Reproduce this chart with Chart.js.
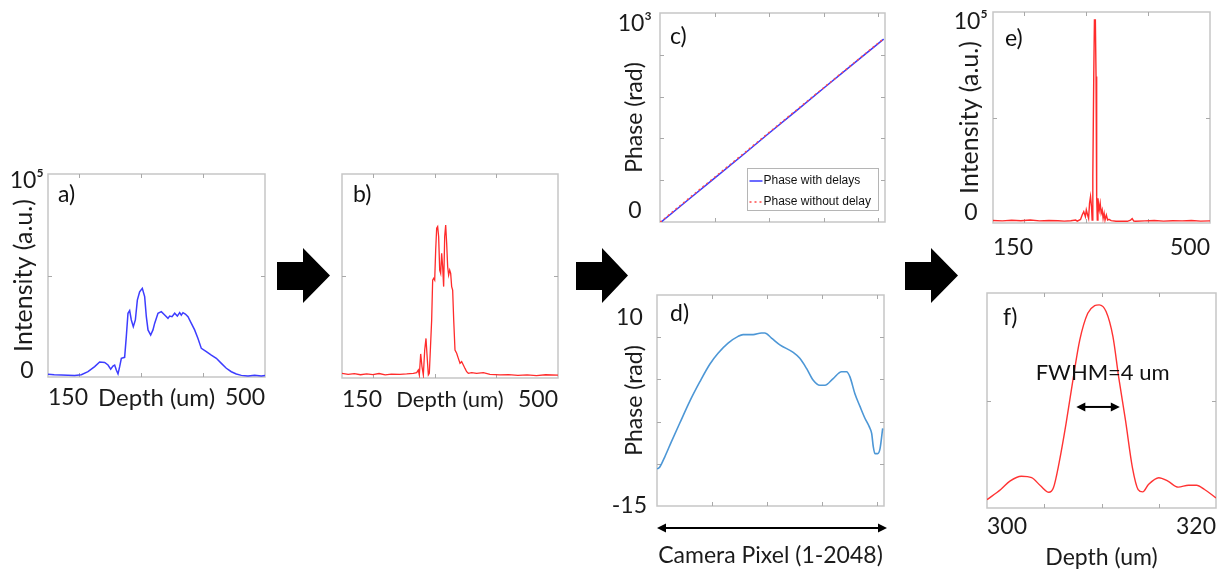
<!DOCTYPE html>
<html>
<head>
<meta charset="utf-8">
<script src="https://cdn.jsdelivr.net/npm/chart.js@4.4.0/dist/chart.umd.min.js"></script>
<style>
  html, body { margin: 0; padding: 0; background: #fff; }
  #figure { position: relative; width: 1221px; height: 573px; overflow: hidden; background: #fff; }
  #figure canvas { position: absolute; }
  #steps { position: absolute; left: 0; top: 0; }
</style>
</head>
<body>
<div id="figure">
  <svg id="steps" width="1221" height="573">
    <polygon points="277,262 303,262 303,248 330,275.5 303,303 303,290 277,290" fill="#000"/>
    <polygon points="576,262 602,262 602,248 628,275.5 602,303 602,290 576,290" fill="#000"/>
    <polygon points="905,262 931,262 931,248 958,275.5 931,303 931,290 905,290" fill="#000"/>
  </svg>
  <canvas id="panelA"></canvas>
  <canvas id="panelB"></canvas>
  <canvas id="panelC"></canvas>
  <canvas id="panelD"></canvas>
  <canvas id="panelE"></canvas>
  <canvas id="panelF"></canvas>
</div>
<script>
// ---- depth axis shared by a), b), e) ----
const depthTicks = [150, 200, 300, 400, 500];
const depthTickLabels = ['150', '', '', '', '500'];
const intensityTicks = [0, 50000, 100000];
const intensityTickLabels = [['0', ''], '', ['', '10⁵']];

// a) raw depth profile
const rawDepth = [150, 160, 171.5, 182, 193, 203.8, 214.5, 225.3, 233.3, 241.4, 246.8, 251.1, 254.8, 257.5, 260.2,
  262.9, 265.6, 268.3, 273.6, 276.3, 279, 281.7, 284.4, 287.6, 290.9, 294.1, 297.8, 302.1, 305.9, 308.6,
  311.3, 315.6, 319.3, 322, 327.4, 332.8, 338.2, 343.5, 346.2, 350, 354.3, 358.6, 362.4, 365, 367.7,
  371.5, 375.8, 381.2, 386.5, 391.9, 397.3, 405.4, 413.4, 421.5, 429.6, 437.6, 445.7, 453.7, 461.8, 472.6,
  483.3, 494.1, 500];
const rawIntensity = [1300, 1100, 1000, 900, 800, 1100, 2600, 5100, 7400, 7200, 5900, 3900, 5400, 5900, 3400,
  1500, 5100, 9200, 9700, 19900, 31400, 32700, 28100, 24800, 28100, 37900, 42000, 43700, 39600, 29700,
  23200, 20700, 23200, 26400, 31400, 32200, 30500, 28900, 30000, 29700, 31400, 30000, 31700, 30500, 31700,
  31000, 29700, 26400, 23200, 19000, 14100, 12500, 10800, 9200, 6700, 4300, 2600, 1500, 800, 500,
  800, 500, 800];

// b) filtered depth profile
const filtDepth = [150, 160, 170, 180, 190, 200, 210, 220, 230, 244.0, 254.8, 265.6, 271.0, 273.7, 275.3,
  277.5, 279.6, 281.8, 284.0, 286.1, 288.3, 289.9, 291.5, 295.3, 296.9, 298.5, 300.2, 301.8, 303.4, 305.0,
  306.6, 308.3, 309.9, 311.5, 313.1, 314.7, 316.4, 318.0, 319.6, 321.2, 322.8, 324.5, 326.1, 327.7, 329.3,
  331.0, 333.1, 335.8, 338.5, 341.2, 343.9, 346.6, 349.3, 352.0, 354.7, 360.1, 368.2, 379.0, 389.8, 406.0,
  420, 435, 450, 465, 480, 500];
const filtIntensity = [2300, 1800, 2100, 1600, 2000, 1700, 2200, 1500, 1900, 1800, 2000, 2300, 2600, 3900, 1500,
  11800, 5600, 1500, 13700, 19400, 8800, 1500, 2300, 28400, 48000, 48900, 48000, 62700, 73400, 74200,
  69300, 52900, 51300, 61100, 54600, 44800, 69300, 75000, 66000, 54600, 50500, 52900, 51300, 44800, 43100,
  28400, 13700, 12100, 9600, 7200, 8000, 6400, 4700, 3100, 2300, 2600, 2300, 2600, 1800, 1500,
  1700, 1300, 1500, 1200, 1600, 1400];

// c) unwrapped phase over the camera pixels
const pixelTicks = [0, 500, 1000, 1500, 2000];
const phaseTicks = [0, 200, 400, 600, 800, 1000];
const phaseTickLabels = [['0', ''], '', '', '', '', ['', '10³']];
const phasePixels = [1, 250, 500, 750, 1000, 1250, 1500, 1750, 2000, 2048];
const phaseWithDelays = [-4, 103, 210, 317, 426, 533, 641, 748, 855, 875];
const phaseWithoutDelay = [-1, 107, 214, 321, 429, 536, 643, 750, 857, 877];

// d) phase difference
const residualPixels = [1, 24, 70, 130, 206, 297, 388, 479, 554, 645, 736, 781, 872, 948, 978,
  1039, 1115, 1236, 1296, 1357, 1418, 1478, 1524, 1599, 1675, 1720, 1751, 1796, 1842, 1887,
  1926, 1948, 1963, 1978, 2002, 2024, 2048];
const residualPhase = [-10.6, -10.4, -9.2, -7.4, -5.2, -2.6, -0.3, 1.8, 3.1, 4.3, 5.1, 5.3, 5.3, 5.5, 5.5,
  4.9, 4.1, 3.2, 2.5, 1.3, -0.1, -0.7, -0.7, 0.1, 0.9, 0.9, 0.3, -1.7, -3.2, -4.6,
  -5.6, -6.4, -8.0, -8.8, -8.8, -8.2, -5.8];
const residualTicks = [-15, -10, -5, 0, 5, 10];
const residualTickLabels = ['-15', '', '', '', '', ['', '10']];

// e) compensated depth profile
const corrDepth = [150, 165, 180, 195, 210, 225, 240, 254.7, 265.1, 275.5, 283.3, 285.9, 291.2, 293.8, 296.4,
  299.0, 300.5, 302.6, 304.2, 305.7, 307.3, 308.9, 309.9, 311.0, 312.5, 313.6, 315.1, 316.2, 317.2, 318.2,
  319.3, 320.3, 321.4, 322.9, 324.5, 326.1, 327.6, 329.2, 330.7, 332.8, 334.9, 337.0, 340.6, 348.4, 358.9,
  366.7, 371.9, 374.5, 377.1, 379.7, 395, 410, 425, 440, 455, 470, 485, 500];
const corrIntensity = [1200, 1000, 1300, 1100, 1400, 1000, 1200, 1100, 900, 1100, 1400, 900, 1700, 3800, 5400,
  3000, 6200, 3800, 2200, 9300, 12500, 7700, 1400, 22000, 69400, 96200, 96200, 69400, 12500, 1400,
  11700, 8500, 6200, 9300, 4600, 6200, 2200, 4600, 1400, 3800, 1400, 1700, 1100, 800, 900,
  800, 1400, 2100, 900, 800, 1000, 1200, 900, 1100, 1000, 1200, 900, 1000];

// f) zoom on the main peak
const zoomDepth = [300.0, 301.2, 302.0, 303.0, 303.9, 304.7, 305.4, 305.8, 306.3, 306.9, 307.5, 308.1, 308.8, 309.4, 309.8,
  310.4, 311.0, 311.5, 312.1, 312.7, 313.2, 313.6, 314.1, 315.0, 315.8, 316.7, 317.6, 318.3, 319.0, 320.0];
const zoomIntensity = [0.039, 0.086, 0.125, 0.148, 0.141, 0.102, 0.073, 0.094, 0.211, 0.391, 0.594, 0.781, 0.906, 0.941, 0.945,
  0.914, 0.797, 0.609, 0.406, 0.188, 0.086, 0.075, 0.109, 0.141, 0.125, 0.097, 0.106, 0.106, 0.086, 0.047];
const zoomTicks = [300, 305, 310, 315, 320];
const zoomTickLabels = ['300', '', '', '', '320'];
const normTicks = [0, 0.5, 1];
const fwhm = { from: 307.8, to: 311.6, level: 0.47, text: 'FWHM=4 um', labelX: 310.1, labelY: 0.63 };

const FONT = 'Lato, "Noto Sans", sans-serif';
Chart.defaults.font.family = FONT;
Chart.defaults.color = '#1b1b1b';

const pts = (xs, ys) => xs.map((x, i) => ({ x: x, y: ys[i] }));

// box around the plot area with small inward ticks, matlab style
const axisFrame = {
  id: 'axisFrame',
  beforeDatasetsDraw(chart) {
    const { ctx, chartArea: a, scales: { x, y } } = chart;
    ctx.save();
    ctx.strokeStyle = '#c6c6c6';
    ctx.lineWidth = 1.5;
    ctx.strokeRect(a.left, a.top, a.right - a.left, a.bottom - a.top);
    ctx.strokeStyle = '#a9a9a9';
    ctx.lineWidth = 1;
    ctx.beginPath();
    x.ticks.forEach(t => {
      const px = Math.round(x.getPixelForValue(t.value)) + 0.5;
      if (px <= a.left + 2 || px >= a.right - 2) return;
      ctx.moveTo(px, a.bottom); ctx.lineTo(px, a.bottom - 4);
      ctx.moveTo(px, a.top); ctx.lineTo(px, a.top + 4);
    });
    y.ticks.forEach(t => {
      const py = Math.round(y.getPixelForValue(t.value)) + 0.5;
      if (py <= a.top + 2 || py >= a.bottom - 2) return;
      ctx.moveTo(a.left, py); ctx.lineTo(a.left + 4, py);
      ctx.moveTo(a.right, py); ctx.lineTo(a.right - 4, py);
    });
    ctx.stroke();
    ctx.restore();
  }
};

const panelLetter = {
  id: 'panelLetter',
  afterDraw(chart, args, o) {
    const { ctx, chartArea: a } = chart;
    ctx.save();
    ctx.font = '23px ' + FONT;
    ctx.fillStyle = '#111';
    ctx.textBaseline = 'middle';
    ctx.fillText(o.text, a.left + o.dx, a.top + o.dy);
    ctx.restore();
  }
};

function doubleArrow(ctx, x1, x2, y, head, half) {
  ctx.save();
  ctx.strokeStyle = '#000';
  ctx.fillStyle = '#000';
  ctx.lineWidth = 2;
  ctx.beginPath();
  ctx.moveTo(x1 + head - 1, y); ctx.lineTo(x2 - head + 1, y);
  ctx.stroke();
  ctx.beginPath();
  ctx.moveTo(x1, y); ctx.lineTo(x1 + head, y - half); ctx.lineTo(x1 + head, y + half);
  ctx.closePath(); ctx.fill();
  ctx.beginPath();
  ctx.moveTo(x2, y); ctx.lineTo(x2 - head, y - half); ctx.lineTo(x2 - head, y + half);
  ctx.closePath(); ctx.fill();
  ctx.restore();
}

// arrow spanning the camera pixels under d)
const spanArrow = {
  id: 'spanArrow',
  afterDraw(chart, args, o) {
    const a = chart.chartArea;
    doubleArrow(chart.ctx, a.left, a.right + 3, a.bottom + o.dy, 9, 4.5);
  }
};

// FWHM marker in f)
const fwhmMarker = {
  id: 'fwhmMarker',
  afterDatasetsDraw(chart) {
    const { ctx, scales: { x, y } } = chart;
    doubleArrow(ctx, x.getPixelForValue(fwhm.from), x.getPixelForValue(fwhm.to), y.getPixelForValue(fwhm.level), 9, 4.5);
    ctx.save();
    ctx.font = '22px ' + FONT;
    ctx.fillStyle = '#111';
    ctx.textAlign = 'center';
    ctx.textBaseline = 'middle';
    ctx.fillText(fwhm.text, x.getPixelForValue(fwhm.labelX), y.getPixelForValue(fwhm.labelY));
    ctx.restore();
  }
};

// boxed legend in the lower right corner of c)
const boxLegend = {
  id: 'boxLegend',
  afterDatasetsDraw(chart, args, o) {
    const { ctx, chartArea: a } = chart;
    const x0 = Math.round(a.right - o.right - o.width) + 0.5;
    const y0 = Math.round(a.bottom - o.bottom - o.height) + 0.5;
    ctx.save();
    ctx.fillStyle = '#fff';
    ctx.fillRect(x0, y0, o.width, o.height);
    ctx.strokeStyle = '#b5b5b5';
    ctx.lineWidth = 1;
    ctx.strokeRect(x0, y0, o.width, o.height);
    ctx.font = '12px "Liberation Sans", Arial, sans-serif';
    ctx.textBaseline = 'middle';
    chart.data.datasets.forEach((ds, i) => {
      const ry = y0 + o.rows[i];
      ctx.strokeStyle = ds.borderColor;
      ctx.lineWidth = ds.borderWidth;
      ctx.setLineDash(ds.borderDash || []);
      ctx.beginPath();
      ctx.moveTo(x0 + 2, ry); ctx.lineTo(x0 + 15, ry);
      ctx.stroke();
      ctx.setLineDash([]);
      ctx.fillStyle = '#111';
      ctx.fillText(ds.label, x0 + 16, ry);
    });
    ctx.restore();
  }
};

function xAxis(p, height) {
  return {
    type: 'linear', min: p.min, max: p.max,
    afterBuildTicks: s => { s.ticks = p.ticks.map(v => ({ value: v })); },
    afterFit: s => { s.height = height; },
    grid: { display: false, drawTicks: false },
    border: { display: false },
    ticks: {
      display: !!p.labels, autoSkip: false, maxRotation: 0, minRotation: 0, align: 'inner',
      padding: p.pad || 0,
      callback: (v, i) => (p.labels ? p.labels[i] : ''),
      font: { size: 23, lineHeight: 1.2 }
    },
    title: p.title
      ? { display: true, text: p.title, padding: { top: 0, bottom: p.titlePad }, font: { size: p.titleSize || 23, lineHeight: 1.2 } }
      : { display: false }
  };
}

function yAxis(p, width) {
  return {
    type: 'linear', min: p.min, max: p.max,
    afterBuildTicks: s => { s.ticks = p.ticks.map(v => ({ value: v })); },
    afterFit: s => { s.width = width; },
    grid: { display: false, drawTicks: false },
    border: { display: false },
    ticks: {
      display: !!p.labels, autoSkip: false, crossAlign: 'center',
      padding: p.pad || 0,
      callback: (v, i) => (p.labels ? p.labels[i] : ''),
      font: { size: 23, lineHeight: p.lh || 1.2 }
    },
    title: p.title
      ? { display: true, text: p.title, padding: { top: p.titlePad, bottom: 0 }, font: { size: p.titleSize || 23, lineHeight: 1.2 } }
      : { display: false }
  };
}

function makePanel(id, frame, area, cfg) {
  const canvas = document.getElementById(id);
  canvas.width = frame.w;
  canvas.height = frame.h;
  canvas.style.left = frame.x + 'px';
  canvas.style.top = frame.y + 'px';
  canvas.style.width = frame.w + 'px';
  canvas.style.height = frame.h + 'px';
  const plugins = Object.assign({ legend: { display: false }, tooltip: { enabled: false }, panelLetter: cfg.letter }, cfg.pluginOptions || {});
  return new Chart(canvas, {
    type: 'line',
    data: { datasets: cfg.datasets },
    options: {
      responsive: false, animation: false, devicePixelRatio: 1, events: [],
      layout: { padding: { left: 0, top: area.t - frame.y, right: frame.x + frame.w - area.r, bottom: 0 } },
      plugins: plugins,
      scales: {
        x: xAxis(cfg.x, frame.y + frame.h - area.b),
        y: yAxis(cfg.y, area.l - frame.x)
      }
    },
    plugins: [axisFrame, panelLetter].concat(cfg.plugins || [])
  });
}

function trace(xs, ys, color, extra) {
  return Object.assign({
    data: pts(xs, ys), borderColor: color, borderWidth: 1.4,
    pointRadius: 0, fill: false, tension: 0
  }, extra || {});
}

// a)
makePanel('panelA', { x: 0, y: 130, w: 280, h: 285 }, { l: 48, t: 174, r: 265, b: 377 }, {
  datasets: [trace(rawDepth, rawIntensity, '#3d3dff', { borderWidth: 1.5 })],
  letter: { text: 'a)', dx: 10, dy: 21 },
  x: { min: 150, max: 500, ticks: depthTicks, labels: depthTickLabels, pad: 7, title: 'Depth (um)', titlePad: 2, titleSize: 24 },
  y: { min: 0, max: 100000, ticks: intensityTicks, labels: intensityTickLabels, pad: 4, lh: 0.6, title: 'Intensity (a.u.)', titlePad: 9, titleSize: 25 }
});

// b)
makePanel('panelB', { x: 300, y: 130, w: 270, h: 285 }, { l: 342, t: 174, r: 558, b: 378 }, {
  datasets: [trace(filtDepth, filtIntensity, '#ff2b2b', { borderWidth: 1.3 })],
  letter: { text: 'b)', dx: 11, dy: 21 },
  x: { min: 150, max: 500, ticks: depthTicks, labels: depthTickLabels, pad: 8, title: 'Depth (um)', titlePad: 2, titleSize: 22 },
  y: { min: 0, max: 100000, ticks: intensityTicks }
});

// c)
makePanel('panelC', { x: 600, y: -40, w: 295, h: 302 }, { l: 660, t: 13, r: 885, b: 222 }, {
  datasets: [
    trace(phasePixels, phaseWithDelays, '#3a3aff', { label: 'Phase with delays', borderWidth: 1.5, order: 1 }),
    trace(phasePixels, phaseWithoutDelay, '#ff4a4a', { label: 'Phase without delay', borderWidth: 1.5, borderDash: [2, 3], order: 0 })
  ],
  letter: { text: 'c)', dx: 10, dy: 24 },
  x: { min: 0, max: 2060, ticks: pixelTicks },
  y: { min: 0, max: 1000, ticks: phaseTicks, labels: phaseTickLabels, pad: 8, lh: 0.95, title: 'Phase (rad)', titlePad: 21 },
  pluginOptions: { boxLegend: { width: 131, height: 42, right: 7, bottom: 12, rows: [12.5, 33.5] } },
  plugins: [boxLegend]
});

// d)
makePanel('panelD', { x: 600, y: 225, w: 295, h: 348 }, { l: 657, t: 295, r: 884, b: 506 }, {
  datasets: [trace(residualPixels, residualPhase, '#4d97d6', { borderWidth: 1.6, cubicInterpolationMode: 'monotone' })],
  letter: { text: 'd)', dx: 13, dy: 19 },
  x: { min: 0, max: 2060, ticks: pixelTicks, title: 'Camera Pixel (1-2048)', titlePad: 4 },
  y: { min: -15, max: 10, ticks: residualTicks, labels: residualTickLabels, pad: 10, lh: 2, title: 'Phase (rad)', titlePad: 21 },
  pluginOptions: { spanArrow: { dy: 22 } },
  plugins: [spanArrow]
});

// e)
makePanel('panelE', { x: 955, y: -40, w: 266, h: 305 }, { l: 993, t: 12, r: 1217, b: 223 }, {
  datasets: [trace(corrDepth, corrIntensity, '#ff2b2b', { borderWidth: 1.4 })],
  letter: { text: 'e)', dx: 12, dy: 27 },
  x: { min: 150, max: 500, ticks: depthTicks, labels: depthTickLabels, pad: 11 },
  y: { min: 0, max: 100000, ticks: intensityTicks, labels: intensityTickLabels, pad: 5, lh: 0.87, title: 'Intensity (a.u.)', titlePad: 0, titleSize: 25 }
});

// f)
makePanel('panelF', { x: 955, y: 250, w: 266, h: 323 }, { l: 987, t: 293, r: 1218, b: 508 }, {
  datasets: [trace(zoomDepth, zoomIntensity, '#ff3333', { borderWidth: 1.4, cubicInterpolationMode: 'monotone' })],
  letter: { text: 'f)', dx: 16, dy: 25 },
  x: { min: 300, max: 320, ticks: zoomTicks, labels: zoomTickLabels, pad: 5, title: 'Depth (um)', titlePad: 2 },
  y: { min: 0, max: 1, ticks: normTicks },
  plugins: [fwhmMarker]
});
</script>
</body>
</html>
